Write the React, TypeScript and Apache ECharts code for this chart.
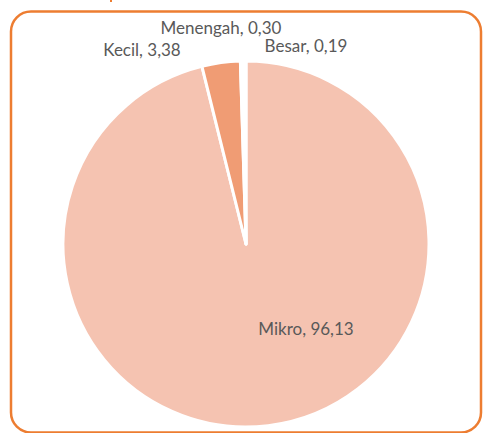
import React, { useEffect, useRef } from "react";
import * as echarts from "echarts";

const categories = ["Mikro", "Kecil", "Menengah", "Besar"];
const values = [96.13, 3.38, 0.3, 0.19];
const valueLabels = ["96,13", "3,38", "0,30", "0,19"];
const sliceColors = ["#F5C3B1", "#F09C74", "#FFFFFF", "#FFFFFF"];
const labelPositions: [number, number][] = [
  [306, 328],
  [142, 49],
  [221, 27],
  [306, 45],
];

export default function App() {
  const ref = useRef<HTMLDivElement>(null);
  useEffect(() => {
    if (!ref.current) return;
    const chart = echarts.init(ref.current, undefined, { renderer: "svg" });
    chart.setOption({
      animation: false,
      backgroundColor: "#ffffff",
      graphic: [
        {
          type: "rect",
          shape: { x: 11, y: 11.5, width: 470, height: 421, r: 20 },
          style: { fill: "none", stroke: "#ED7D31", lineWidth: 2.5 },
          z: 10,
        },
        {
          type: "rect",
          shape: { x: 110, y: 0, width: 2, height: 2 },
          style: { fill: "#ED7D31" },
        },
      ],
      series: [
        {
          type: "pie",
          center: [246, 244],
          radius: 183,
          startAngle: 90,
          clockwise: true,
          avoidLabelOverlap: false,
          itemStyle: { borderColor: "#ffffff", borderWidth: 3 },
          label: {
            show: true,
            position: "outside",
            fontFamily: "Lato",
            fontSize: 17,
            color: "#595959",
            formatter: (p: any) => `${p.name}, ${valueLabels[p.dataIndex]}`,
          },
          labelLine: { show: false },
          labelLayout: (p: any) => ({
            x: labelPositions[p.dataIndex][0],
            y: labelPositions[p.dataIndex][1],
            align: "center",
            verticalAlign: "middle",
          }),
          emphasis: { disabled: true },
          data: categories.map((c, i) => ({
            name: c,
            value: values[i],
            itemStyle: { color: sliceColors[i] },
          })),
        },
      ],
    });
    return () => chart.dispose();
  }, []);
  return (
    <div
      ref={ref}
      style={{ position: "fixed", left: 0, top: 0, width: 483, height: 433 }}
    />
  );
}
